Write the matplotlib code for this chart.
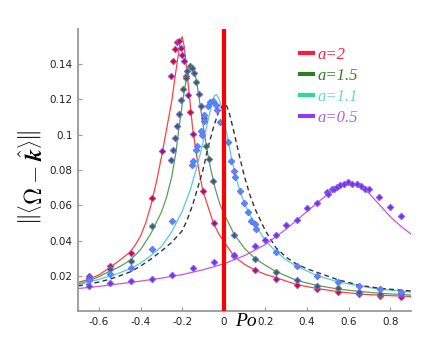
import matplotlib
matplotlib.use('Agg')
import matplotlib.pyplot as plt
from matplotlib.lines import Line2D

# fitted curves (x, y)
red_fit_x = [-0.70, -0.65, -0.60, -0.55, -0.50, -0.45, -0.425, -0.40, -0.375, -0.35, -0.325, -0.30, -0.275,
             -0.25, -0.235, -0.22, -0.21, -0.20, -0.19, -0.18, -0.165, -0.15, -0.13, -0.12, -0.10, -0.075,
             -0.05, -0.025, 0.00, 0.05, 0.10, 0.15, 0.20, 0.25, 0.35, 0.45, 0.55, 0.65, 0.75, 0.90]
red_fit_y = [0.0163, 0.0180, 0.0205, 0.0245, 0.0288, 0.0335, 0.0375, 0.0425, 0.0500, 0.0600, 0.0725, 0.0870, 0.1030,
             0.1190, 0.1320, 0.1440, 0.1520, 0.1556, 0.1500, 0.1390, 0.1220, 0.1040, 0.0880, 0.0800, 0.0680, 0.0590,
             0.0500, 0.0440, 0.0395, 0.0310, 0.0265, 0.0232, 0.0208, 0.0190, 0.0150, 0.0128, 0.0110, 0.0097, 0.0090, 0.0083]

green_fit_x = [-0.70, -0.65, -0.60, -0.55, -0.50, -0.45, -0.40, -0.35, -0.30, -0.275, -0.25, -0.23, -0.215,
               -0.20, -0.185, -0.17, -0.158, -0.145, -0.13, -0.115, -0.10, -0.08, -0.06, -0.04, -0.02, 0.00,
               0.05, 0.10, 0.15, 0.20, 0.25, 0.35, 0.45, 0.55, 0.65, 0.75, 0.90]
green_fit_y = [0.0155, 0.0170, 0.0195, 0.0225, 0.0252, 0.0288, 0.0348, 0.0440, 0.0560, 0.0645, 0.0760, 0.0900, 0.1040,
               0.1170, 0.1280, 0.1365, 0.1392, 0.1378, 0.1300, 0.1180, 0.1060, 0.0910, 0.0790, 0.0690, 0.0610, 0.0555,
               0.0435, 0.0355, 0.0298, 0.0260, 0.0225, 0.0174, 0.0145, 0.0125, 0.0112, 0.0101, 0.0091]

cyan_fit_x = [-0.70, -0.65, -0.60, -0.55, -0.50, -0.45, -0.40, -0.35, -0.30, -0.25, -0.20, -0.16, -0.135,
              -0.11, -0.09, -0.07, -0.055, -0.045, -0.035, -0.02, 0.00, 0.02, 0.04, 0.06, 0.08, 0.10, 0.125,
              0.15, 0.175, 0.20, 0.25, 0.30, 0.35, 0.45, 0.55, 0.65, 0.75, 0.90]
cyan_fit_y = [0.0150, 0.0163, 0.0180, 0.0198, 0.0217, 0.0240, 0.0272, 0.0315, 0.0365, 0.0450, 0.0565, 0.0690, 0.0795,
              0.0905, 0.1005, 0.1110, 0.1185, 0.1222, 0.1228, 0.1195, 0.1090, 0.0970, 0.0850, 0.0750, 0.0672, 0.0610, 0.0545,
              0.0495, 0.0445, 0.0400, 0.0338, 0.0290, 0.0255, 0.0200, 0.0166, 0.0143, 0.0124, 0.0108]

dash_fit_x = [-0.70, -0.65, -0.60, -0.55, -0.50, -0.45, -0.40, -0.35, -0.30, -0.25, -0.20, -0.175, -0.15,
              -0.125, -0.10, -0.075, -0.05, -0.025, 0.00, 0.01, 0.025, 0.05, 0.075, 0.10, 0.125, 0.15, 0.20,
              0.25, 0.30, 0.35, 0.40, 0.45, 0.55, 0.65, 0.75, 0.90]
dash_fit_y = [0.0143, 0.0152, 0.0165, 0.0180, 0.0200, 0.0222, 0.0255, 0.0295, 0.0340, 0.0390, 0.0455, 0.0520, 0.0600,
              0.0700, 0.0800, 0.0930, 0.1040, 0.1130, 0.1175, 0.1175, 0.1130, 0.1010, 0.0880, 0.0760, 0.0660, 0.0580, 0.0455,
              0.0360, 0.0305, 0.0266, 0.0240, 0.0219, 0.0177, 0.0147, 0.0129, 0.0114]

purple_fit_x = [-0.70, -0.60, -0.50, -0.40, -0.30, -0.20, -0.10, 0.00, 0.10, 0.20, 0.30, 0.40, 0.45, 0.50,
                0.55, 0.60, 0.65, 0.70, 0.75, 0.80, 0.85, 0.90]
purple_fit_y = [0.0128, 0.0140, 0.0155, 0.0170, 0.0187, 0.0207, 0.0234, 0.0268, 0.0315, 0.0378, 0.0465, 0.0565, 0.0615, 0.0663,
                0.0705, 0.0730, 0.0715, 0.0665, 0.0600, 0.0535, 0.0482, 0.0436]

# measured points
red_x = [-0.646, -0.545, -0.446, -0.347, -0.298, -0.252, -0.244, -0.234, -0.223, -0.213, -0.204, -0.199, -0.193,
         -0.180, -0.172, -0.163, -0.148, -0.099, -0.048, 0.051, 0.152, 0.252, 0.351, 0.450, 0.549, 0.650, 0.750, 0.849]
red_y = [0.0200, 0.0258, 0.0332, 0.0639, 0.0906, 0.1332, 0.1417, 0.1488, 0.1526, 0.1530, 0.1492, 0.1454, 0.1420,
         0.1332, 0.1228, 0.1127, 0.1006, 0.0680, 0.0500, 0.0310, 0.0234, 0.0181, 0.0147, 0.0125, 0.0110, 0.0097, 0.0087, 0.0081]

green_x = [-0.646, -0.545, -0.446, -0.347, -0.252, -0.242, -0.236, -0.226, -0.215, -0.204, -0.194, -0.183, -0.175,
           -0.163, -0.151, -0.144, -0.132, -0.120, -0.111, -0.096, -0.083, -0.072, -0.051, 0.051, 0.152, 0.252,
           0.351, 0.450, 0.549, 0.650, 0.750, 0.849]
green_y = [0.0189, 0.0238, 0.0283, 0.0483, 0.0859, 0.0916, 0.0982, 0.1051, 0.1119, 0.1194, 0.1257, 0.1323, 0.1364,
           0.1389, 0.1379, 0.1351, 0.1300, 0.1232, 0.1163, 0.1095, 0.0934, 0.0863, 0.0737, 0.0430, 0.0294, 0.0219,
           0.0176, 0.0144, 0.0129, 0.0110, 0.0098, 0.0095]

blue_x = [-0.646, -0.545, -0.446, -0.347, -0.247, -0.151, -0.146, -0.132, -0.127, -0.111, -0.103, -0.096, -0.096,
          -0.077, -0.064, -0.051, -0.035, -0.032, -0.016, 0.019, 0.037, 0.051, 0.056, 0.077, 0.096, 0.117, 0.133,
          0.148, 0.155, 0.252, 0.351, 0.450, 0.549, 0.650, 0.750, 0.849]
blue_y = [0.0176, 0.0210, 0.0242, 0.0351, 0.0513, 0.0831, 0.0850, 0.0916, 0.0934, 0.1019, 0.1000, 0.1076, 0.1114,
          0.1164, 0.1183, 0.1193, 0.1170, 0.1142, 0.1072, 0.0959, 0.0850, 0.0797, 0.0759, 0.0680, 0.0613, 0.0560, 0.0511,
          0.0492, 0.0468, 0.0336, 0.0253, 0.0200, 0.0163, 0.0140, 0.0125, 0.0110]

purple_x = [-0.646, -0.545, -0.446, -0.347, -0.247, -0.148, -0.048, 0.051, 0.152, 0.200, 0.252, 0.300, 0.351, 0.399,
            0.450, 0.498, 0.503, 0.519, 0.531, 0.543, 0.558, 0.578, 0.598, 0.617, 0.638, 0.657, 0.678, 0.699,
            0.747, 0.798, 0.849]
purple_y = [0.0144, 0.0159, 0.0172, 0.0181, 0.0206, 0.0242, 0.0278, 0.0317, 0.0370, 0.0405, 0.0433, 0.0486, 0.0516, 0.0582,
            0.0615, 0.0675, 0.0665, 0.0690, 0.0695, 0.0705, 0.0714, 0.0722, 0.0731, 0.0722, 0.0718, 0.0708, 0.0695, 0.0690,
            0.0646, 0.0592, 0.0539]

labels = ['a=2', 'a=1.5', 'a=1.1', 'a=0.5']
xticks = [-0.6, -0.4, -0.2, 0, 0.2, 0.4, 0.6, 0.8]
xtick_labels = ['-0.6', '-0.4', '-0.2', '0', '0.2', '0.4', '0.6', '0.8']
yticks = [0.02, 0.04, 0.06, 0.08, 0.1, 0.12, 0.14]
ytick_labels = ['0.02', '0.04', '0.06', '0.08', '0.1', '0.12', '0.14']

fig = plt.figure(figsize=(4.36, 3.48), dpi=100)
ax = fig.add_axes([0.179, 0.106, 0.764, 0.811])

ax.plot(red_fit_x, red_fit_y, color='#ff4040', lw=0.9)
ax.plot(green_fit_x, green_fit_y, color='#5a9e5a', lw=0.9)
ax.plot(cyan_fit_x, cyan_fit_y, color='#55c8ec', lw=0.9)
ax.plot(dash_fit_x, dash_fit_y, color='#333333', lw=1.0, ls=(0, (3.5, 2.5)))
ax.plot(purple_fit_x, purple_fit_y, color='#cc55dd', lw=0.9)

mk = dict(marker='D', ls='none', ms=3.3, mew=0.7, mec='#7b68ee')
ax.plot(red_x, red_y, mfc='#e8001c', **mk)
ax.plot(green_x, green_y, mfc='#2f6f3a', **mk)
ax.plot(blue_x, blue_y, mfc='#3399ff', **mk)
ax.plot(purple_x, purple_y, mfc='#8a2be2', **mk)

ax.axvline(0, color='#ff0000', lw=3, zorder=5)

ax.set_xlim(-0.7, 0.9)
ax.set_ylim(0, 0.16)
ax.set_xticks(xticks)
ax.set_xticklabels(xtick_labels)
ax.set_yticks(yticks)
ax.set_yticklabels(ytick_labels)
ax.tick_params(direction='in', length=3, color='#999999', labelsize=7.5, labelcolor='#222222', pad=4)
for s in ['top', 'right']:
    ax.spines[s].set_visible(False)
for s in ['left', 'bottom']:
    ax.spines[s].set_color('#999999')
    ax.spines[s].set_linewidth(1.3)

# legend
leg_cols = ['#ff1a40', '#2e7d1e', '#30d890', '#8a40f0']
txt_cols = ['#ff2040', '#2e7d1e', '#60e0c0', '#b060f0']
handles = [Line2D([0], [0], color=c, lw=3) for c in leg_cols]
leg = ax.legend(handles, labels, loc='upper left', bbox_to_anchor=(0.62, 0.99), frameon=False,
                handlelength=0.8, handletextpad=0.25, labelspacing=0.3,
                prop={'family': 'Liberation Serif', 'style': 'italic', 'size': 12})
for t, c in zip(leg.get_texts(), txt_cols):
    t.set_color(c)

fig.text(0.075, 0.49, r'$\left\|\left\langle\mathbf{\Omega}-\hat{\mathbfit{k}}\right\rangle\right\|$',
         rotation=90, ha='center', va='center', fontsize=17, math_fontfamily='cm')
fig.text(0.565, 0.075, 'Po', family='Liberation Serif', style='italic', fontsize=14,
         ha='center', va='center')

fig.savefig('out.png', dpi=100)
